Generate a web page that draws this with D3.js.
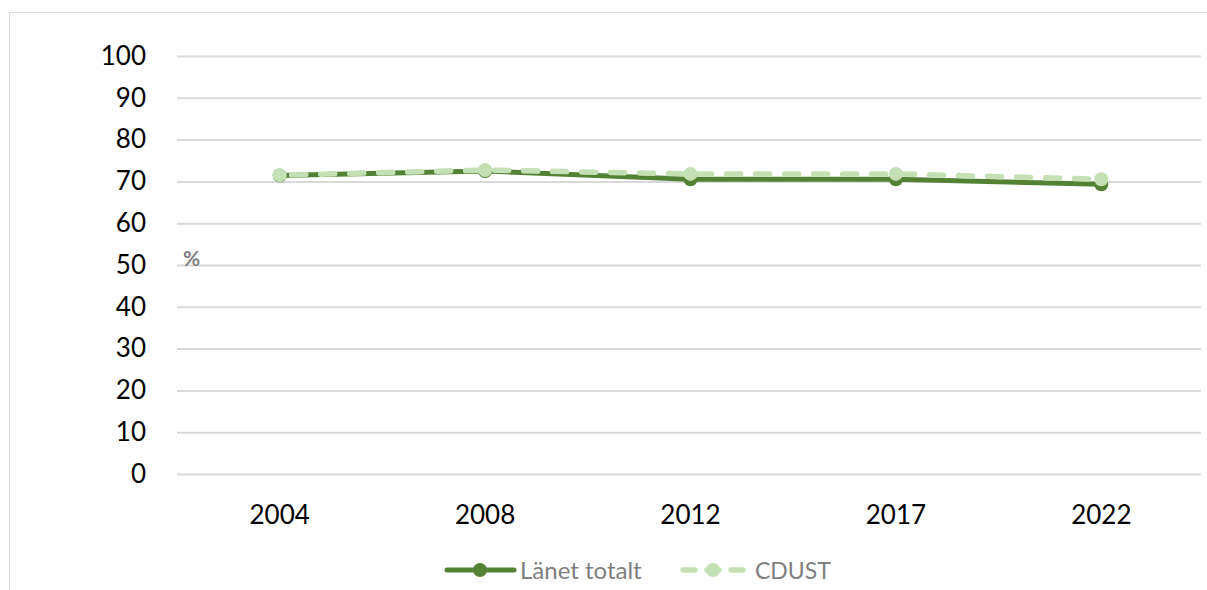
<!DOCTYPE html>
<html><head><meta charset="utf-8">
<script src="https://cdn.jsdelivr.net/npm/d3@7"></script>
<style>body{margin:0;background:#fff}svg{display:block}</style>
</head><body><svg id="c" width="1207" height="590"></svg>
<script>
const years = ["2004","2008","2012","2017","2022"];
const lanetTotalt = [71.4, 72.5, 70.5, 70.5, 69.3];
const cdust = [71.5, 72.7, 71.8, 71.8, 70.5];
const yTicks = [0,10,20,30,40,50,60,70,80,90,100];
const seriesNames = ["Länet totalt","CDUST"];

const svg = d3.select("#c");
const font = "Lato, 'Open Sans', sans-serif";
svg.append("path").attr("d","M9.5,590 V12.5 H1207").attr("fill","none").attr("stroke","#d9d9d9").attr("stroke-width",1);

const x = d3.scaleBand().domain(years).range([177,1204]);
const y = d3.scaleLinear().domain([0,100]).range([474,56]);

const yAxis = svg.append("g").attr("transform","translate(177,0)")
  .call(d3.axisLeft(y).tickValues(yTicks).tickSize(-1024).tickPadding(31));
yAxis.select(".domain").remove();
yAxis.selectAll("line").attr("stroke","#d9d9d9").attr("stroke-width",2);
yAxis.selectAll("text").attr("font-family",font).attr("font-size",26).attr("fill","#000");

const xAxis = svg.append("g").attr("transform","translate(0,474)")
  .call(d3.axisBottom(x).tickSize(0).tickPadding(32));
xAxis.select(".domain").remove();
xAxis.selectAll("text").attr("font-family",font).attr("font-size",26).attr("fill","#000");

svg.append("text").attr("x",183).attr("y",266).text("%")
  .attr("font-family",font).attr("font-size",21).attr("font-weight","bold").attr("fill","#808080");

const cx = d => x(d) + x.bandwidth()/2;
const line = d3.line().x((d,i)=>cx(years[i])).y(d=>y(d));

const dark = "#548235", light = "#c5e0b4";
svg.append("path").datum(lanetTotalt).attr("d",line).attr("fill","none")
  .attr("stroke",dark).attr("stroke-width",5).attr("stroke-linejoin","round").attr("stroke-linecap","round");
svg.selectAll(".m1").data(lanetTotalt).join("circle")
  .attr("cx",(d,i)=>cx(years[i])).attr("cy",d=>y(d)).attr("r",7).attr("fill",dark);

svg.append("path").datum(cdust).attr("d",line).attr("fill","none")
  .attr("stroke",light).attr("stroke-width",5.5).attr("stroke-dasharray","14 15").attr("stroke-dashoffset",-12)
  .attr("stroke-linecap","round").attr("stroke-linejoin","round");
svg.selectAll(".m2").data(cdust).join("circle")
  .attr("cx",(d,i)=>cx(years[i])).attr("cy",d=>y(d)).attr("r",7).attr("fill",light);

const lg = svg.append("g");
lg.append("line").attr("x1",447).attr("x2",514).attr("y1",570).attr("y2",570)
  .attr("stroke",dark).attr("stroke-width",5).attr("stroke-linecap","round");
lg.append("circle").attr("cx",480).attr("cy",570).attr("r",7).attr("fill",dark);
lg.append("text").attr("x",520).attr("y",579).text(seriesNames[0])
  .attr("font-family",font).attr("font-size",24).attr("fill","#7f7f7f");
lg.append("line").attr("x1",683).attr("x2",743).attr("y1",570).attr("y2",570)
  .attr("stroke",light).attr("stroke-width",5.5).attr("stroke-dasharray","12 12").attr("stroke-linecap","round");
lg.append("circle").attr("cx",713).attr("cy",570).attr("r",7).attr("fill",light);
lg.append("text").attr("x",755).attr("y",579).text(seriesNames[1])
  .attr("font-family",font).attr("font-size",23).attr("fill","#7f7f7f");
</script></body></html>
